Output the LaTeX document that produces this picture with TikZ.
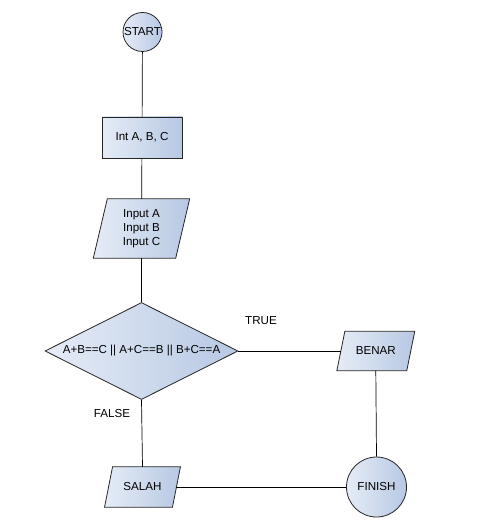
\documentclass[tikz,border=0pt]{standalone}
\usepackage{fontspec}
\setmainfont{Liberation Sans}
\usetikzlibrary{shapes.geometric,backgrounds}
\definecolor{shadeL}{HTML}{E6ECF7}
\definecolor{shadeR}{HTML}{B7C8E3}
\definecolor{edge}{HTML}{262626}
\tikzset{
  x=1pt, y=-1pt,
  every node/.style={font=\fontsize{11.6}{14}\selectfont, text=black, align=center, inner sep=0pt},
  grad/.style={left color=shadeL, right color=shadeR},
  outline/.style={draw=edge, line width=0.8pt},
  termbox/.style={circle, grad, outline},
  procbox/.style={rectangle, grad, outline},
  decbox/.style={diamond, aspect=2, grad, outline},
  iobox/.style={rectangle},
  flow/.style={draw=black, line width=0.7pt},
  lbl/.style={font=\fontsize{11.6}{14}\selectfont}
}
% slanted input/output shape drawn behind a named node
\newcommand{\ioshape}[2]{%
  \begin{scope}[on background layer]
    \path[grad, outline]
      ([xshift=#2]#1.north west) -- ([xshift=#2]#1.north east) --
      ([xshift=-#2]#1.south east) -- ([xshift=-#2]#1.south west) -- cycle;
  \end{scope}}
\begin{document}
\begin{tikzpicture}
\useasboundingbox (0,0) rectangle (485,529);

\node[termbox, minimum size=39pt] (start) at (142.5,32) {START};
\node[procbox, minimum width=80pt, minimum height=41pt] (init) at (142,137.5) {Int A, B, C};
\node[iobox, minimum width=82pt, minimum height=59pt] (input) at (141.5,228.5) {Input A\\Input B\\Input C};
\ioshape{input}{7pt}
\node[decbox, minimum width=193pt, minimum height=97pt] (cond) at (141.5,351) {A+B==C || A+C==B || B+C==A};
\node[iobox, minimum width=69.5pt, minimum height=39pt] (benar) at (375.8,351) {BENAR};
\ioshape{benar}{4pt}
\node[iobox, minimum width=67.5pt, minimum height=40pt] (salah) at (142.5,487) {SALAH};
\ioshape{salah}{4pt}
\node[termbox, minimum size=60pt] (finish) at (376.5,487) {FINISH};

\node[lbl] (truelbl) at (261,321) {TRUE};
\node[lbl] (falselbl) at (112,414) {FALSE};

\draw[flow] (start) -- (init);
\draw[flow] (init) -- (input);
\draw[flow] (input) -- (cond);
\draw[flow] (cond.east) -- (benar.west);
\draw[flow] (cond.south) -- (salah.north);
\draw[flow] (benar.south) -- (finish.north);
\draw[flow] (salah.east) -- (finish.west);
\end{tikzpicture}
\end{document}
